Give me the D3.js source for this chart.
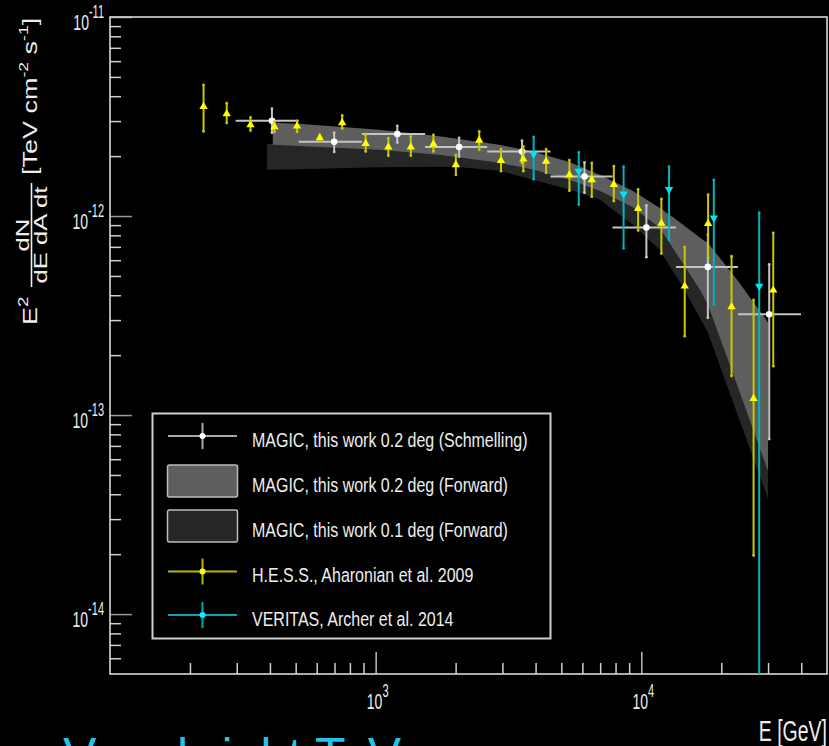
<!DOCTYPE html>
<html>
<head>
<meta charset="utf-8">
<script src="https://cdn.jsdelivr.net/npm/d3@7"></script>
<style>
  body { margin: 0; background: #000; }
  svg { display: block; font-family: 'Liberation Sans', Arial, Helvetica, sans-serif; }
</style>
</head>
<body>
<div id="chart"></div>
<script>
// axis ranges (GeV, TeV cm^-2 s^-1)
const xDomain = [100, 50000];
const yDomain = [5e-15, 1e-11];
const xMajorTicks = [1e3, 1e4];
const yMajorTicks = [1e-14, 1e-13, 1e-12, 1e-11];

// MAGIC 0.2 deg, Schmelling unfolding
const schmEnergy = [407, 698, 1206, 2061, 3556, 6110, 10450, 17800, 30300];
const schmELow = [297, 513, 888, 1535, 2630, 4550, 7790, 13500, 23100];
const schmEHigh = [513, 888, 1535, 2630, 4550, 7790, 13500, 23100, 39900];
const schmFlux = [3.01e-12, 2.36e-12, 2.58e-12, 2.22e-12, 2.11e-12, 1.58e-12, 8.75e-13, 5.55e-13, 3.21e-13];
const schmFluxLow = [2.62e-12, 2.10e-12, 2.34e-12, 1.99e-12, 1.85e-12, 1.31e-12, 6.21e-13, 3.08e-13, 7.57e-14];
const schmFluxHigh = [3.46e-12, 2.62e-12, 2.84e-12, 2.47e-12, 2.39e-12, 1.86e-12, 1.13e-12, 8.07e-13, 5.71e-13];

// MAGIC 0.2 deg, forward folding band
const fwd02Energy = [410, 513, 1030, 1730, 2920, 3960, 5360, 6960, 9270, 11700, 13100, 16600, 17800, 22900, 30000];
const fwd02Upper = [2.94e-12, 2.91e-12, 2.71e-12, 2.52e-12, 2.28e-12, 2.10e-12, 1.87e-12, 1.61e-12, 1.34e-12, 1.10e-12, 9.93e-13, 7.79e-13, 7.33e-13, 4.80e-13, 2.92e-13];
const fwd02Lower = [2.28e-12, 2.25e-12, 2.15e-12, 2.03e-12, 1.85e-12, 1.71e-12, 1.52e-12, 1.34e-12, 1.11e-12, 8.75e-13, 6.95e-13, 4.28e-13, 3.59e-13, 1.43e-13, 5.23e-14];

// MAGIC 0.1 deg, forward folding band
const fwd01Energy = [390, 513, 1030, 1980, 2920, 5360, 6960, 9270, 11700, 14300, 17800, 30000];
const fwd01Upper = [2.31e-12, 2.28e-12, 2.20e-12, 2.15e-12, 2.03e-12, 1.71e-12, 1.52e-12, 1.26e-12, 1.02e-12, 7.19e-13, 4.28e-13, 7.57e-14];
const fwd01Lower = [1.71e-12, 1.72e-12, 1.76e-12, 1.77e-12, 1.69e-12, 1.36e-12, 1.21e-12, 9.06e-13, 6.78e-13, 4.43e-13, 2.60e-13, 3.79e-14];

// H.E.S.S. 2009
const hessEnergy = [225, 275, 338, 416, 506, 616, 748, 917, 1116, 1356, 1650, 2004, 2454, 2963, 3596, 4380, 5363, 6510, 7880, 9725, 11900, 14570, 17840, 21860, 26460, 31380];
const hessFlux = [3.55e-12, 3.26e-12, 2.87e-12, 2.81e-12, 2.83e-12, 2.47e-12, 2.94e-12, 2.31e-12, 2.22e-12, 2.22e-12, 2.30e-12, 1.81e-12, 2.40e-12, 1.90e-12, 1.93e-12, 1.88e-12, 1.61e-12, 1.52e-12, 1.44e-12, 1.09e-12, 9.19e-13, 4.44e-13, 9.16e-13, 3.50e-13, 1.21e-13, 4.24e-13];
const hessFluxLow = [2.66e-12, 2.93e-12, 2.69e-12, 2.64e-12, 2.65e-12, 2.37e-12, 2.75e-12, 2.11e-12, 2.01e-12, 2.01e-12, 2.11e-12, 1.61e-12, 2.15e-12, 1.68e-12, 1.68e-12, 1.65e-12, 1.34e-12, 1.25e-12, 1.19e-12, 8.45e-13, 6.48e-13, 2.49e-13, 6.18e-13, 1.57e-13, 1.97e-14, 1.76e-13];
const hessFluxHigh = [4.56e-12, 3.69e-12, 3.13e-12, 2.98e-12, 3.01e-12, 2.56e-12, 3.20e-12, 2.56e-12, 2.46e-12, 2.51e-12, 2.56e-12, 2.03e-12, 2.66e-12, 2.17e-12, 2.24e-12, 2.17e-12, 1.91e-12, 1.85e-12, 1.78e-12, 1.36e-12, 1.22e-12, 6.98e-13, 1.28e-12, 6.28e-13, 3.79e-13, 8.23e-13];

// VERITAS 2014
const veritasEnergy = [3933, 5815, 8576, 12716, 18745, 27780];
const veritasFlux = [2.05e-12, 1.68e-12, 1.29e-12, 1.36e-12, 9.78e-13, 4.44e-13];
const veritasFluxLow = [1.53e-12, 1.14e-12, 6.88e-13, 7.61e-13, 3.59e-13, 1e-15];
const veritasFluxHigh = [2.50e-12, 2.09e-12, 1.77e-12, 1.77e-12, 1.52e-12, 1.04e-12];

const legendLabels = [
  'MAGIC, this work 0.2 deg (Schmelling)',
  'MAGIC, this work 0.2 deg (Forward)',
  'MAGIC, this work 0.1 deg (Forward)',
  'H.E.S.S., Aharonian et al. 2009',
  'VERITAS, Archer et al. 2014',
];

const width = 829;
const height = 746;
const frame = { left: 110, right: 827, top: 17, bottom: 674 };

const svg = d3.select('#chart')
  .append('svg')
  .attr('width', width)
  .attr('height', height);

svg.append('rect').attr('width', width).attr('height', height).attr('fill', '#000');

const xScale = d3.scaleLog().domain(xDomain).range([frame.left, frame.right]);
const yScale = d3.scaleLog().domain(yDomain).range([frame.bottom, frame.top]);

svg.append('defs').append('clipPath').attr('id', 'plot-clip')
  .append('rect')
  .attr('x', frame.left).attr('y', frame.top)
  .attr('width', frame.right - frame.left)
  .attr('height', frame.bottom - frame.top);

// minor ticks 2..9 in every decade
function minorTicks(domain) {
  const out = [];
  const lo = Math.floor(Math.log10(domain[0]));
  const hi = Math.ceil(Math.log10(domain[1]));
  for (let p = lo; p < hi; p++) {
    for (let k = 2; k <= 9; k++) {
      const v = k * Math.pow(10, p);
      if (v > domain[0] * 1.0001 && v < domain[1] * 0.9999) out.push(v);
    }
  }
  return out;
}

function styleTicks(g, color) {
  g.select('.domain').remove();
  g.selectAll('line').attr('stroke', color).attr('stroke-width', 1.5);
}

// ticks point inward, like the ROOT frame
svg.append('g')
  .attr('transform', `translate(${frame.left},0)`)
  .call(d3.axisLeft(yScale).tickValues(minorTicks(yDomain)).tickSize(-11).tickFormat(''))
  .call((g) => styleTicks(g, '#cfcfcf'));
svg.append('g')
  .attr('transform', `translate(${frame.left},0)`)
  .call(d3.axisLeft(yScale).tickValues(yMajorTicks).tickSize(-22).tickFormat(''))
  .call((g) => styleTicks(g, '#9a9a9a'));
svg.append('g')
  .attr('transform', `translate(0,${frame.bottom})`)
  .call(d3.axisBottom(xScale).tickValues(minorTicks(xDomain)).tickSize(-11).tickFormat(''))
  .call((g) => styleTicks(g, '#cfcfcf'));
svg.append('g')
  .attr('transform', `translate(0,${frame.bottom})`)
  .call(d3.axisBottom(xScale).tickValues(xMajorTicks).tickSize(-22).tickFormat(''))
  .call((g) => styleTicks(g, '#bdbdbd'));

// frame
svg.append('rect')
  .attr('x', frame.left).attr('y', frame.top)
  .attr('width', frame.right - frame.left)
  .attr('height', frame.bottom - frame.top)
  .attr('fill', 'none')
  .attr('stroke', '#d8d8d8')
  .attr('stroke-width', 1.6);

// tick labels as 10^n
function powerLabel(x, y, value, anchor) {
  const t = svg.append('text')
    .attr('transform', `translate(${x},${y}) scale(1,1.6)`)
    .attr('text-anchor', anchor)
    .attr('fill', '#eeeeee')
    .attr('font-size', 14);
  t.append('tspan').text('10');
  t.append('tspan').attr('font-size', 11).attr('dy', -7.5).text(Math.round(Math.log10(value)));
}

yMajorTicks.forEach((v) => powerLabel(104, yScale(v) + 13, v, 'end'));
xMajorTicks.forEach((v) => powerLabel(xScale(v) + 2, 709, v, 'middle'));

svg.append('text')
  .attr('transform', 'translate(827,741) scale(1,1.55)')
  .attr('text-anchor', 'end')
  .attr('fill', '#eeeeee')
  .attr('font-size', 19.5)
  .text('E [GeV]');

// y title, rotated pieces
function rotText(x, y, anchor, size) {
  return svg.append('text')
    .attr('transform', `translate(${x},${y}) rotate(-90) scale(1.35,1)`)
    .attr('text-anchor', anchor)
    .attr('fill', '#eeeeee')
    .attr('font-size', size);
}

const e2 = rotText(37, 325, 'start', 20);
e2.append('tspan').text('E');
e2.append('tspan').attr('font-size', 14).attr('dy', -9).text('2');

rotText(28.5, 235, 'middle', 19).text('dN');
rotText(47, 235, 'middle', 19).text('dE dA dt');
svg.append('line')
  .attr('x1', 31.5).attr('x2', 31.5)
  .attr('y1', 183).attr('y2', 287)
  .attr('stroke', '#eeeeee').attr('stroke-width', 1.6);

const unit = rotText(37, 175, 'start', 20);
unit.append('tspan').text('[TeV cm');
unit.append('tspan').attr('font-size', 13).attr('dy', -9).text('-2');
unit.append('tspan').attr('dy', 9).text(' s');
unit.append('tspan').attr('font-size', 13).attr('dy', -9).text('-1');
unit.append('tspan').attr('dy', 9).text(']');

const plot = svg.append('g').attr('clip-path', 'url(#plot-clip)');

// forward folding bands
const area = d3.area()
  .x((d) => xScale(d.e))
  .y0((d) => yScale(d.lo))
  .y1((d) => yScale(d.hi));

const band01 = fwd01Energy.map((e, i) => ({ e, lo: fwd01Lower[i], hi: fwd01Upper[i] }));
const band02 = fwd02Energy.map((e, i) => ({ e, lo: fwd02Lower[i], hi: fwd02Upper[i] }));

plot.append('path').datum(band01).attr('d', area).attr('fill', '#262626');
plot.append('path').datum(band02).attr('d', area).attr('fill', '#5e5e5e');

// error bars with small end caps
function drawPoints(rows, opts) {
  const g = plot.append('g');
  g.selectAll('line.ey')
    .data(rows)
    .join('line')
    .attr('class', 'ey')
    .attr('x1', (d) => xScale(d.e)).attr('x2', (d) => xScale(d.e))
    .attr('y1', (d) => yScale(d.lo)).attr('y2', (d) => yScale(d.hi))
    .attr('stroke', opts.bar).attr('stroke-width', 2);
  g.selectAll('circle.cap')
    .data(rows.flatMap((d) => [{ e: d.e, f: d.lo }, { e: d.e, f: d.hi }]))
    .join('circle')
    .attr('class', 'cap')
    .attr('cx', (d) => xScale(d.e)).attr('cy', (d) => yScale(d.f))
    .attr('r', 1.4)
    .attr('fill', opts.bar);
  if (opts.horizontal) {
    g.selectAll('line.ex')
      .data(rows)
      .join('line')
      .attr('class', 'ex')
      .attr('x1', (d) => xScale(d.eLo)).attr('x2', (d) => xScale(d.eHi))
      .attr('y1', (d) => yScale(d.f)).attr('y2', (d) => yScale(d.f))
      .attr('stroke', opts.bar).attr('stroke-width', 2);
  }
  if (opts.symbol) {
    g.selectAll('path.mark')
      .data(rows)
      .join('path')
      .attr('class', 'mark')
      .attr('d', d3.symbol(d3.symbolTriangle).size(30))
      .attr('transform', (d) => `translate(${xScale(d.e)},${yScale(d.f)}) rotate(${opts.rotate})`)
      .attr('fill', opts.mark);
  } else {
    g.selectAll('circle.mark')
      .data(rows)
      .join('circle')
      .attr('class', 'mark')
      .attr('cx', (d) => xScale(d.e)).attr('cy', (d) => yScale(d.f))
      .attr('r', 3.3)
      .attr('fill', opts.mark);
  }
}

const schmRows = schmEnergy.map((e, i) => ({
  e, eLo: schmELow[i], eHi: schmEHigh[i], f: schmFlux[i], lo: schmFluxLow[i], hi: schmFluxHigh[i],
}));
const hessRows = hessEnergy.map((e, i) => ({ e, f: hessFlux[i], lo: hessFluxLow[i], hi: hessFluxHigh[i] }));
const veritasRows = veritasEnergy.map((e, i) => ({ e, f: veritasFlux[i], lo: veritasFluxLow[i], hi: veritasFluxHigh[i] }));

drawPoints(schmRows, { bar: '#c4c4c4', mark: '#ffffff', horizontal: true });
drawPoints(hessRows, { bar: '#c8c800', mark: '#ffff00', symbol: true, rotate: 0 });
drawPoints(veritasRows, { bar: '#00b4be', mark: '#00e6f0', symbol: true, rotate: 180 });

// legend
const legend = svg.append('g');
legend.append('rect')
  .attr('x', 152.5).attr('y', 413.5)
  .attr('width', 398).attr('height', 225)
  .attr('fill', '#000')
  .attr('stroke', '#cfcfcf')
  .attr('stroke-width', 2);

const rowY = [436, 481, 526, 571.5, 615];
const symX0 = 168;
const symX1 = 237;
const symXc = (symX0 + symX1) / 2;

function legendCross(y, line, dot) {
  legend.append('line').attr('x1', symX0).attr('x2', symX1).attr('y1', y).attr('y2', y)
    .attr('stroke', line).attr('stroke-width', 2);
  legend.append('line').attr('x1', symXc).attr('x2', symXc).attr('y1', y - 13).attr('y2', y + 13)
    .attr('stroke', line).attr('stroke-width', 2);
  legend.append('circle').attr('cx', symXc).attr('cy', y).attr('r', 3).attr('fill', dot);
}

function legendBox(y, fill) {
  legend.append('rect')
    .attr('x', 167.5).attr('y', y - 16)
    .attr('width', 70).attr('height', 32)
    .attr('rx', 2)
    .attr('fill', fill)
    .attr('stroke', '#bcbcbc')
    .attr('stroke-width', 1.5);
}

legendCross(rowY[0], '#a8a8a8', '#ffffff');
legendBox(rowY[1], '#5e5e5e');
legendBox(rowY[2], '#262626');
legendCross(rowY[3], '#b4b400', '#ffff00');
legendCross(rowY[4], '#00a8b0', '#00f0ff');

legend.selectAll('text')
  .data(legendLabels)
  .join('text')
  .attr('transform', (d, i) => `translate(252,${rowY[i] + 10.5}) scale(1,1.3)`)
  .attr('fill', '#eeeeee')
  .attr('font-size', 16)
  .text((d) => d);

// slide heading peeking in at the bottom edge
svg.append('text')
  .attr('x', 63)
  .attr('y', 773)
  .attr('fill', '#22c4ee')
  .attr('font-size', 50)
  .text('Very bright TeV');
</script>
</body>
</html>
